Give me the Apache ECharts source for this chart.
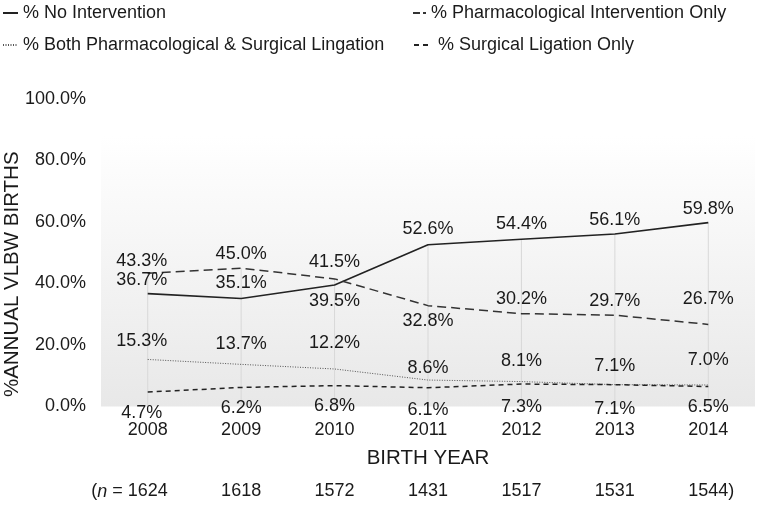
<!DOCTYPE html>
<html>
<head>
<meta charset="utf-8">
<script src="https://cdn.jsdelivr.net/npm/echarts@6/dist/echarts.min.js"></script>
<style>
html,body{margin:0;padding:0;background:#fff;}
#chart{width:762px;height:506px;}
</style>
</head>
<body>
<div id="chart"></div>
<script>
// ---- data ----
const years = ['2008', '2009', '2010', '2011', '2012', '2013', '2014'];
const noIntervention = [36.7, 35.1, 39.5, 52.6, 54.4, 56.1, 59.8];
const pharmOnly = [43.3, 45.0, 41.5, 32.8, 30.2, 29.7, 26.7];
const bothPharmSurgical = [15.3, 13.7, 12.2, 8.6, 8.1, 7.1, 7.0];
const surgicalOnly = [4.7, 6.2, 6.8, 6.1, 7.3, 7.1, 6.5];
const sampleSizes = [1624, 1618, 1572, 1431, 1517, 1531, 1544];
const seriesNames = ['% No Intervention', '% Pharmacological Intervention Only',
  '% Both Pharmacological & Surgical Lingation', '% Surgical Ligation Only'];

// ---- styling ----
const FONT = "'Liberation Sans', Arial, Helvetica, sans-serif";
const TXT = '#1a1a1a';
const labelBase = { show: true, fontFamily: FONT, fontSize: 18, color: TXT,
  formatter: p => p.value.toFixed(1) + '%' };

// per-point label placement tweaks (style only)
const tweaks = {
  noInt: { 0: { distance: 4 }, 2: { position: 'bottom', distance: 6 }, 5: { distance: 4 }, 6: { distance: 4 } },
  pharm: { 0: { distance: 3 }, 2: { distance: 7 }, 3: { position: 'bottom', distance: 6 }, 6: { distance: 16 } },
  both: { 0: { distance: 9 }, 2: { distance: 16 }, 3: { distance: 3 }, 5: { distance: 9 }, 6: { distance: 15 } },
  surg: { 3: { distance: 13 }, 4: { distance: 13 }, 5: { distance: 15 } }
};
function items(values, tw) {
  return values.map((v, i) => {
    const lab = Object.assign({}, tw[i] || {});
    if (i === 0) lab.offset = [-6, 0];
    return Object.keys(lab).length ? { value: v, label: lab } : v;
  });
}
const dropMax = years.map((_, i) => Math.max(noIntervention[i], pharmOnly[i], bothPharmSurgical[i], surgicalOnly[i]));

const chart = echarts.init(document.getElementById('chart'), null, { renderer: 'canvas' });
const legendCommon = { orient: 'horizontal', itemHeight: 10, itemGap: 0, padding: 0,
  itemStyle: { opacity: 0 },
  textStyle: { fontFamily: FONT, fontSize: 18, color: TXT }, selectedMode: false };

function lineSeries(name, data, lineStyle, label) {
  return {
    name, type: 'line', data,
    symbol: 'circle', symbolSize: 1, showSymbol: true,
    itemStyle: { color: 'rgba(0,0,0,0)', borderWidth: 0 },
    lineStyle, label, z: 3
  };
}

chart.setOption({
  animation: false,
  backgroundColor: '#ffffff',
  textStyle: { fontFamily: FONT },
  legend: [
    Object.assign({}, legendCommon, { data: [seriesNames[0]], left: 2, top: 4, itemWidth: 15 }),
    Object.assign({}, legendCommon, { data: [seriesNames[1]], left: 412, top: 4, itemWidth: 13,
      lineStyle: { type: [7, 3, 3, 3] } }),
    Object.assign({}, legendCommon, { data: [seriesNames[2]], left: 2, top: 36, itemWidth: 15 }),
    Object.assign({}, legendCommon, { data: [seriesNames[3]], left: 413, top: 36, itemWidth: 14,
      lineStyle: { type: [5, 4] }, formatter: n => ' ' + n })
  ],
  grid: {
    left: 101, right: 7, top: 99, bottom: 99.5, show: true, borderWidth: 0,
    outerBoundsMode: 'none', containLabel: false,
    backgroundColor: new echarts.graphic.LinearGradient(0, 0, 0, 1, [
      { offset: 0, color: '#ffffff' },
      { offset: 0.12, color: '#ffffff' },
      { offset: 1, color: '#e8e8e8' }
    ])
  },
  xAxis: [
    {
      type: 'category', data: years, boundaryGap: true,
      name: 'BIRTH YEAR', nameLocation: 'middle', nameGap: 41, nameMoveOverlap: false,
      nameTextStyle: { fontFamily: FONT, fontSize: 20.5, color: TXT },
      axisLine: { show: false }, axisTick: { show: false }, splitLine: { show: false },
      axisLabel: { fontFamily: FONT, fontSize: 18, color: TXT, margin: 15, interval: 0 }
    },
    {
      type: 'category', data: sampleSizes.map(String), boundaryGap: true, position: 'bottom',
      axisLine: { show: false }, axisTick: { show: false }, splitLine: { show: false },
      axisLabel: {
        fontFamily: FONT, fontSize: 18, color: TXT, margin: 76, interval: 0,
        formatter: (v, i) => {
          if (i === 0) return '{p|(}{i|n}{p| = }' + v + '{sp|}';
          if (i === sampleSizes.length - 1) return '{sq|}' + v + ')';
          return v;
        },
        rich: {
          p: { fontFamily: FONT, fontSize: 18, color: TXT },
          i: { fontFamily: FONT, fontSize: 18, color: TXT, fontStyle: 'italic' },
          sp: { width: 36.5 },
          sq: { width: 6 }
        }
      }
    }
  ],
  yAxis: {
    type: 'value', min: 0, max: 100, interval: 20,
    name: '%ANNUAL VLBW BIRTHS', nameLocation: 'middle', nameGap: 78, nameRotate: 90,
    nameMoveOverlap: false,
    nameTextStyle: { fontFamily: FONT, fontSize: 20.5, color: TXT, padding: [0, 43, 0, 0] },
    axisLine: { show: false }, axisTick: { show: false }, splitLine: { show: false },
    axisLabel: { fontFamily: FONT, fontSize: 18, color: TXT, margin: 15,
      formatter: v => v.toFixed(1) + '%' }
  },
  series: [
    {
      name: 'drop', type: 'bar', data: dropMax, barWidth: 1, silent: true,
      itemStyle: { color: '#d8d8d8' }, label: { show: false }, z: 1
    },
    lineSeries(seriesNames[0], items(noIntervention, tweaks.noInt),
      { color: '#222', width: 1.6, type: 'solid' },
      Object.assign({}, labelBase, { position: 'top', distance: 6 })),
    lineSeries(seriesNames[1], items(pharmOnly, tweaks.pharm),
      { color: '#333', width: 1.5, type: [9, 5] },
      Object.assign({}, labelBase, { position: 'top', distance: 5 })),
    lineSeries(seriesNames[2], items(bothPharmSurgical, tweaks.both),
      { color: '#555', width: 1, type: [1, 1.5] },
      Object.assign({}, labelBase, { position: 'top', distance: 11 })),
    lineSeries(seriesNames[3], items(surgicalOnly, tweaks.surg),
      { color: '#222', width: 1.5, type: [5, 4] },
      Object.assign({}, labelBase, { position: 'bottom', distance: 11 }))
  ]
});
</script>
</body>
</html>
